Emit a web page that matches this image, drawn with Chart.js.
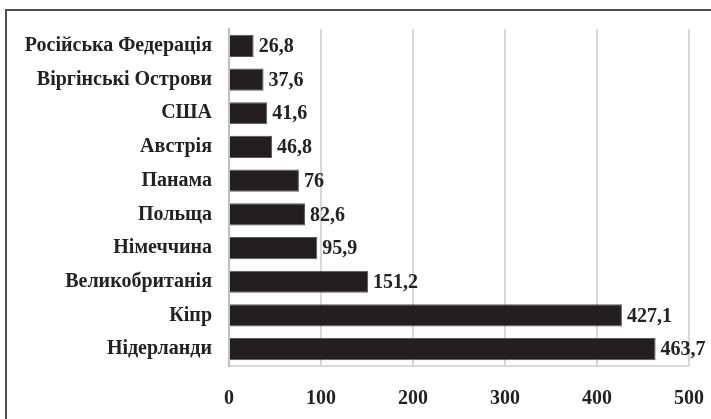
<!DOCTYPE html>
<html>
<head>
<meta charset="utf-8">
<script src="https://cdn.jsdelivr.net/npm/chart.js@4.4.0/dist/chart.umd.min.js"></script>
<style>
  html, body { margin: 0; padding: 0; background: #fff; }
  #wrap { position: relative; width: 711px; height: 419px; overflow: hidden; }
  #frame { position: absolute; left: 5px; top: 9px; width: 720px; height: 430px;
           border-left: 2px solid #4d4d4d; border-top: 2px solid #4d4d4d; pointer-events: none; }
  canvas { position: absolute; left: 0; top: 0; }
</style>
</head>
<body>
<div id="wrap">
  <canvas id="c" width="711" height="419"></canvas>
  <div id="frame"></div>
</div>
<script>
const categories = ["Російська Федерація", "Віргінські Острови", "США", "Австрія", "Панама", "Польща", "Німеччина", "Великобританія", "Кіпр", "Нідерланди"];
const values = [26.8, 37.6, 41.6, 46.8, 76, 82.6, 95.9, 151.2, 427.1, 463.7];
const valueLabels = ["26,8", "37,6", "41,6", "46,8", "76", "82,6", "95,9", "151,2", "427,1", "463,7"];
const xTicks = [0, 100, 200, 300, 400, 500];

const FONT = "'Liberation Serif', 'Times New Roman', serif";
const FSIZE = 20;

const valueLabelPlugin = {
  id: 'valueLabels',
  afterDatasetsDraw(chart) {
    const ctx = chart.ctx;
    const meta = chart.getDatasetMeta(0);
    ctx.save();
    ctx.font = "bold " + FSIZE + "px " + FONT;
    ctx.fillStyle = "#222";
    ctx.textAlign = "left";
    ctx.textBaseline = "middle";
    meta.data.forEach((bar, i) => {
      ctx.fillText(valueLabels[i], bar.x + 5, bar.y + 1);
    });
    ctx.restore();
  }
};

new Chart(document.getElementById('c'), {
  type: 'bar',
  data: {
    labels: categories,
    datasets: [{
      data: values,
      backgroundColor: '#231f20',
      borderColor: '#5a5a5a',
      borderWidth: 1,
      categoryPercentage: 1,
      barPercentage: 0.66
    }]
  },
  options: {
    indexAxis: 'y',
    responsive: false,
    animation: false,
    events: [],
    layout: { padding: { left: 0, top: 29, right: 22, bottom: 0 } },
    plugins: { legend: { display: false }, tooltip: { enabled: false } },
    scales: {
      x: {
        min: 0, max: 500,
        afterBuildTicks(scale) { scale.ticks = xTicks.map(v => ({ value: v })); },
        afterFit(scale) { scale.height = 53; scale.paddingLeft = 0; scale.paddingRight = 0; },
        grid: { color: '#d9d9d9', lineWidth: 2, drawTicks: false },
        border: { display: true, color: '#d9d9d9', width: 2 },
        ticks: { color: '#222', padding: 21, font: { family: FONT, size: FSIZE, weight: 'bold' } }
      },
      y: {
        afterFit(scale) { scale.width = 229; scale.paddingTop = 0; scale.paddingBottom = 0; },
        grid: { display: false, drawTicks: false },
        border: { display: true, color: '#bfbfbf', width: 2 },
        ticks: { color: '#222', padding: 17, font: { family: FONT, size: FSIZE, weight: 'bold' } }
      }
    }
  },
  plugins: [valueLabelPlugin]
});
</script>
</body>
</html>
